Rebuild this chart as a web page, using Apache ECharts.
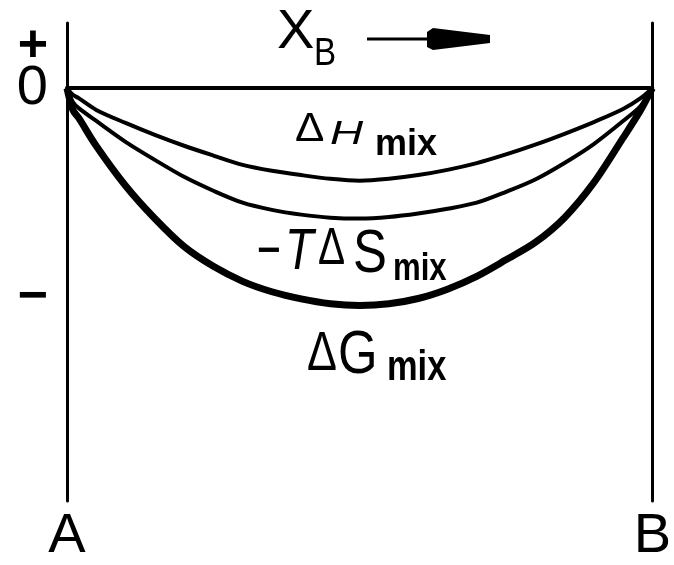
<!DOCTYPE html>
<html>
<head>
<meta charset="utf-8">
<style>
  html, body { margin: 0; padding: 0; background: #fff; }
  #chart { width: 674px; height: 565px; }
</style>
<script src="https://cdn.jsdelivr.net/npm/echarts@6/dist/echarts.min.js"></script>
</head>
<body>
<div id="chart"></div>
<script>
// Mole fraction of B across the A-B binary
const xB = [0, 0.01, 0.02, 0.05, 0.1, 0.15, 0.2, 0.25, 0.3, 0.35, 0.4, 0.45, 0.5,
            0.55, 0.6, 0.65, 0.7, 0.75, 0.8, 0.85, 0.9, 0.95, 0.98, 1];

// Mixing quantities (arbitrary energy units, zero at the pure components)
const dHmix   = [0, -0.030, -0.046, -0.100, -0.160, -0.215, -0.265, -0.310, -0.353, -0.380, -0.400, -0.417, -0.426,
                 -0.417, -0.400, -0.376, -0.345, -0.305, -0.260, -0.210, -0.156, -0.096, -0.046, 0];
const mTdSmix = [0, -0.064, -0.092, -0.151, -0.247, -0.330, -0.408, -0.472, -0.527, -0.560, -0.582, -0.596, -0.600,
                 -0.593, -0.577, -0.555, -0.527, -0.477, -0.420, -0.344, -0.257, -0.151, -0.082, 0];
const dGmix   = [0, -0.100, -0.137, -0.266, -0.449, -0.600, -0.729, -0.820, -0.889, -0.937, -0.970, -0.992, -1.000,
                 -0.992, -0.968, -0.925, -0.866, -0.790, -0.710, -0.596, -0.435, -0.229, -0.101, 0];

// Sign marks on the energy axis
const signTickValues = [-0.965, 0.19];
const signTickLabels = ['\u2212', '+'];
// Zero mark on the energy axis
const zeroTickValues = [0];
const zeroTickLabels = ['0'];

// Component names at either end of the composition axis
const xTickValues = [0, 1];
const xTickLabels = ['A', 'B'];

const FONT = '"Liberation Sans", Arial, sans-serif';

function pairs(ys) { return xB.map((x, i) => [x, ys[i]]); }

function pick(values, labels) {
  return v => labels[values.findIndex(t => Math.abs(t - v) < 1e-9)];
}

// text piece placed by its left edge and baseline
function piece(str, left, baseline, size, opt) {
  opt = opt || {};
  return {
    type: 'text',
    x: left,
    y: baseline - 0.3465 * size,
    scaleX: opt.sx || 1,
    silent: true,
    style: {
      text: str,
      fontFamily: FONT,
      fontSize: size,
      fontStyle: opt.italic ? 'italic' : 'normal',
      fontWeight: opt.bold ? 'bold' : 'normal',
      fill: '#000',
      align: 'left',
      verticalAlign: 'middle'
    }
  };
}

const hidden = { show: false };

const chart = echarts.init(document.getElementById('chart'), null, { renderer: 'canvas' });

const option = {
  animation: false,
  backgroundColor: '#fff',
  grid: { left: 67, right: 12, top: 23, bottom: 62, containLabel: false },
  xAxis: [
    {
      type: 'value', min: 0, max: 1,
      axisLine: { show: true, onZero: true, lineStyle: { color: '#000', width: 4 } },
      axisTick: hidden, axisLabel: hidden, splitLine: hidden
    },
    {
      type: 'value', min: 0, max: 1, position: 'bottom',
      axisLine: { show: false, onZero: false },
      axisTick: hidden, splitLine: hidden,
      axisLabel: {
        show: true,
        customValues: xTickValues,
        hideOverlap: false,
        showMinLabel: true,
        showMaxLabel: true,
        margin: 8,
        color: '#000',
        fontFamily: FONT,
        fontSize: 56,
        formatter: pick(xTickValues, xTickLabels)
      }
    }
  ],
  yAxis: [
    {
      type: 'value', min: -1.9, max: 0.3, position: 'left',
      axisLine: { show: true, onZero: false, lineStyle: { color: '#000', width: 3 } },
      axisTick: hidden, splitLine: hidden,
      axisLabel: {
        show: true,
        customValues: signTickValues,
        hideOverlap: false,
        showMinLabel: true,
        showMaxLabel: true,
        margin: 19,
        color: '#000',
        fontFamily: FONT,
        fontWeight: 'bold',
        fontSize: 52,
        formatter: pick(signTickValues, signTickLabels)
      }
    },
    {
      type: 'value', min: -1.9, max: 0.3, position: 'right',
      axisLine: { show: true, onZero: false, lineStyle: { color: '#000', width: 3 } },
      axisTick: hidden, axisLabel: hidden, splitLine: hidden
    },
    {
      type: 'value', min: -1.9, max: 0.3, position: 'left',
      axisLine: { show: false, onZero: false },
      axisTick: hidden, splitLine: hidden,
      axisLabel: {
        show: true,
        customValues: zeroTickValues,
        hideOverlap: false,
        showMinLabel: true,
        showMaxLabel: true,
        margin: 19,
        color: '#000',
        fontFamily: FONT,
        fontSize: 56,
        padding: [0, 0, 7, 0],
        formatter: pick(zeroTickValues, zeroTickLabels)
      }
    }
  ],
  series: [
    {
      name: '\u0394H mix', type: 'line', data: pairs(dHmix),
      smooth: 0.3, showSymbol: false, symbol: 'none',
      lineStyle: { color: '#000', width: 4 }
    },
    {
      name: '\u2212T\u0394S mix', type: 'line', data: pairs(mTdSmix),
      smooth: 0.3, showSymbol: false, symbol: 'none',
      lineStyle: { color: '#000', width: 4 }
    },
    {
      name: '\u0394G mix', type: 'line', data: pairs(dGmix),
      smooth: 0.3, showSymbol: false, symbol: 'none',
      lineStyle: { color: '#000', width: 7 }
    }
  ],
  graphic: [
    // composition heading with direction arrow
    piece('X', 277, 52, 56),
    piece('B', 314, 68, 39, { sx: 0.85 }),
    { type: 'line', silent: true, shape: { x1: 367, y1: 39, x2: 432, y2: 39 },
      style: { stroke: '#000', lineWidth: 3 } },
    { type: 'polygon', silent: true,
      shape: { points: [[427, 32], [433, 28], [490, 35], [490, 43], [433, 50], [427, 47]] },
      style: { fill: '#000' } },

    // curve names
    piece('\u0394', 295, 144, 40, { sx: 1.1 }),
    piece('H', 330, 146, 34, { italic: true, sx: 1.35 }),
    piece('mix', 375, 158, 36, { bold: true }),

    piece('\u2212', 257, 266, 40, { bold: true }),
    piece('T', 285, 273, 57, { italic: true, sx: 0.82 }),
    piece('\u0394', 318, 268, 52, { sx: 0.78 }),
    piece('S', 353, 276, 62, { sx: 0.82 }),
    piece('mix', 393, 283, 38, { bold: true, sx: 0.82 }),

    piece('\u0394', 307, 374, 56, { sx: 0.8 }),
    piece('G', 338, 377, 62, { sx: 0.82 }),
    piece('mix', 387, 383, 42, { bold: true, sx: 0.82 })
  ]
};

chart.setOption(option);
</script>
</body>
</html>
